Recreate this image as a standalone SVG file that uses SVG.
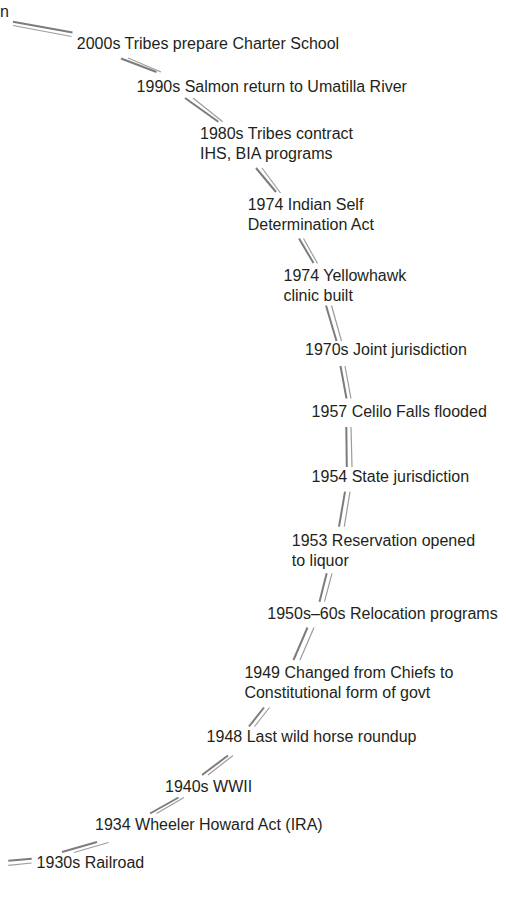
<svg xmlns="http://www.w3.org/2000/svg" width="506" height="898" viewBox="0 0 506 898">
  <style>
    text { font-family: "Liberation Sans", Arial, Helvetica, sans-serif; font-size: 16px; fill: #231f20; }
    .thick { stroke: #7c7c7c; stroke-width: 2; fill: none; }
    .thin { stroke: #9c9c9c; stroke-width: 1.2; fill: none; }
  </style>
  <rect width="506" height="898" fill="#ffffff"/>

  <!-- timeline ribbon: short double-line pieces between the entries -->
  <g id="connectors">
    <g id="seg-01"><line class="thick" x1="13" y1="21.7" x2="72.5" y2="32.5"/><line class="thin" x1="13" y1="25.5" x2="71.5" y2="36.5"/></g>
    <g id="seg-02"><line class="thick" x1="121" y1="58.5" x2="156.5" y2="72"/><line class="thin" x1="128" y1="58" x2="161" y2="72"/></g>
    <g id="seg-03"><line class="thick" x1="185" y1="98" x2="218.3" y2="121.7"/><line class="thin" x1="193" y1="98" x2="222.7" y2="121.7"/></g>
    <g id="seg-04"><line class="thick" x1="256" y1="168" x2="276" y2="192"/><line class="thin" x1="262" y1="168" x2="280.5" y2="193"/></g>
    <g id="seg-05"><line class="thick" x1="299" y1="238.5" x2="313.5" y2="263"/><line class="thin" x1="303.5" y1="238.5" x2="317.5" y2="263.5"/></g>
    <g id="seg-06"><line class="thick" x1="326" y1="305.5" x2="336.5" y2="341"/><line class="thin" x1="331.5" y1="305.5" x2="341.5" y2="341"/></g>
    <g id="seg-07"><line class="thick" x1="340.5" y1="366" x2="346.5" y2="398.5"/><line class="thin" x1="345" y1="366" x2="351" y2="398.5"/></g>
    <g id="seg-08"><line class="thick" x1="346.3" y1="427" x2="346.8" y2="467"/><line class="thin" x1="351" y1="427" x2="352" y2="467"/></g>
    <g id="seg-09"><line class="thick" x1="345" y1="491.7" x2="339" y2="526.7"/><line class="thin" x1="350" y1="491.7" x2="344.3" y2="526.7"/></g>
    <g id="seg-10"><line class="thick" x1="326.7" y1="573.3" x2="319.5" y2="601.7"/><line class="thin" x1="332" y1="573.3" x2="324.5" y2="601.7"/></g>
    <g id="seg-11"><line class="thick" x1="307.5" y1="627.5" x2="293.5" y2="660"/><line class="thin" x1="314" y1="627.5" x2="300" y2="660"/></g>
    <g id="seg-12"><line class="thick" x1="264" y1="707.5" x2="249" y2="726.5"/><line class="thin" x1="269.5" y1="707.5" x2="254.5" y2="726.5"/></g>
    <g id="seg-13"><line class="thick" x1="228" y1="755.5" x2="202" y2="775"/><line class="thin" x1="233" y1="755.5" x2="208" y2="775"/></g>
    <g id="seg-14"><line class="thick" x1="178.5" y1="797.5" x2="150" y2="813.5"/><line class="thin" x1="184" y1="797.5" x2="156.5" y2="813.5"/></g>
    <g id="seg-15"><line class="thick" x1="97" y1="842" x2="62" y2="852"/><line class="thin" x1="108.5" y1="842.5" x2="74" y2="852.5"/></g>
    <g id="seg-16"><line class="thick" x1="31.7" y1="858.7" x2="8.3" y2="860.8"/><line class="thin" x1="31.7" y1="863" x2="8.3" y2="865.3"/></g>
  </g>

  <!-- entries, newest at the top -->
  <g id="cut-word"><text x="0" y="17.3">n</text></g>
  <g id="e2000s"><text x="76.8" y="49">2000s Tribes prepare Charter School</text></g>
  <g id="e1990s"><text x="136.6" y="91.5">1990s Salmon return to Umatilla River</text></g>
  <g id="e1980s"><text x="200" y="138.8">1980s Tribes contract</text><text x="200" y="158.8">IHS, BIA programs</text></g>
  <g id="e1974-act"><text x="247.7" y="209.8">1974 Indian Self</text><text x="247.7" y="229.8">Determination Act</text></g>
  <g id="e1974-clinic"><text x="283.5" y="280.5">1974 Yellowhawk</text><text x="283.5" y="300.5">clinic built</text></g>
  <g id="e1970s"><text x="305" y="354.8">1970s Joint jurisdiction</text></g>
  <g id="e1957"><text x="311.6" y="416.5">1957 Celilo Falls flooded</text></g>
  <g id="e1954"><text x="311.6" y="482.2">1954 State jurisdiction</text></g>
  <g id="e1953"><text x="291.8" y="545.5">1953 Reservation opened</text><text x="291.8" y="565.5">to liquor</text></g>
  <g id="e1950s"><text x="267.3" y="618.8">1950s–60s Relocation programs</text></g>
  <g id="e1949"><text x="244.4" y="678.2">1949 Changed from Chiefs to</text><text x="244.4" y="698.2">Constitutional form of govt</text></g>
  <g id="e1948"><text x="206.6" y="742.2">1948 Last wild horse roundup</text></g>
  <g id="e1940s"><text x="165" y="792.2">1940s WWII</text></g>
  <g id="e1934"><text x="95" y="829.8">1934 Wheeler Howard Act (IRA)</text></g>
  <g id="e1930s"><text x="36.6" y="867.5">1930s Railroad</text></g>
</svg>
